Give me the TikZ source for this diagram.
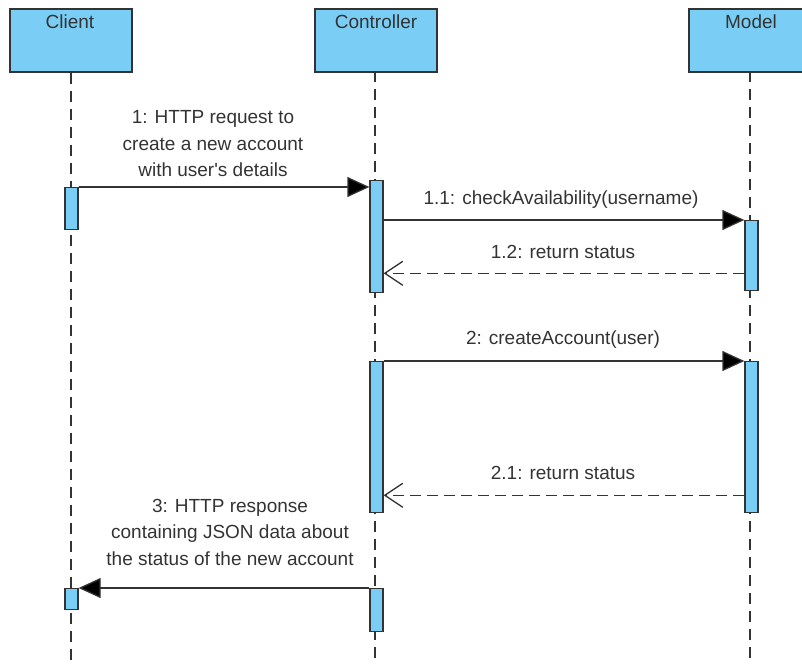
\documentclass[tikz,border=0pt]{standalone}
\usepackage{fontspec}
\setmainfont{Liberation Sans}
\usepackage{tikz}
\usetikzlibrary{arrows.meta}
\definecolor{umlblue}{RGB}{122,206,245}
\definecolor{umlline}{RGB}{51,51,51}

\begin{document}
\begin{tikzpicture}[x=1pt,y=-1pt,
  lifehead/.style={draw=umlline,line width=1.5pt,fill=umlblue,
    minimum width=122pt,minimum height=63pt,inner sep=0pt,anchor=north},
  headname/.style={text=umlline,font=\fontsize{19}{20}\selectfont},
  lifeline/.style={draw=umlline,line width=1.5pt,dash pattern=on 11pt off 7pt},
  actbar/.style={draw=umlline,line width=1.3pt,fill=umlblue,
    minimum width=13pt,inner sep=0pt,anchor=north},
  call/.style={draw=umlline,line width=1.3pt,
    -{Triangle[length=22pt,width=20pt,fill=black]}},
  reply/.style={draw=umlline,line width=1.3pt,dash pattern=on 11pt off 6pt,
    -{Straight Barb[length=18pt,width=24pt]}},
  msg/.style={text=umlline,align=center,font=\fontsize{19}{26.5}\selectfont}]

\useasboundingbox (0,0) rectangle (802,664);
\clip (0,0) rectangle (802,664);

\begin{scope}[shift={(70,0)}]
\node[lifehead] (client) at (1,8) {};
\node[headname] (clientname) at (0,22) {Client};
\draw[lifeline]
  (client.south)
  --
  (client.south |- 0,664);
\node[actbar,minimum height=42pt] (a1) at (1.5,187) {};
\node[actbar,minimum height=21pt] (a3) at (1.5,588) {};
\end{scope}

\begin{scope}[shift={(375,0)}]
\node[lifehead] (ctrl) at (1,8) {};
\node[headname] (ctrlname) at (1,22) {Controller};
\draw[lifeline]
  (0,71)
  --
  (0,664);
\node[actbar,minimum height=112pt] (c1) at (1.5,180) {};
\node[actbar,minimum height=151pt] (c2) at (1.5,361) {};
\node[actbar,minimum height=43pt] (c3) at (1.5,588) {};
\end{scope}

\begin{scope}[shift={(750,0)}]
\node[lifehead] (model) at (0,8) {};
\node[headname] (modelname) at (1,22) {Model};
\draw[lifeline]
  (0,71)
  --
  (0,664);
\node[actbar,minimum height=70pt] (m1) at (1.5,220) {};
\node[actbar,minimum height=151pt] (m2) at (1.5,361) {};
\end{scope}

\path (m1.south west) ++(0,-18) coordinate (r12);
\path (m2.south west) ++(0,-18) coordinate (r21);

\draw[call]
  (a1.north east)
  --
  (a1.north east -| c1.west);

\draw[call]
  (m1.north west -| c1.east)
  --
  (m1.north west);

\draw[reply]
  (r12)
  --
  (r12 -| c1.east);

\draw[call]
  (c2.north east)
  --
  (m2.north west);

\draw[reply]
  (r21)
  --
  (r21 -| c2.east);

\draw[call]
  (c3.north west)
  --
  (c3.north west -| a3.east);

\node[msg] (l1) at (213,144) {1: HTTP request to\\create a new account\\with user\textquotesingle s details};
\node[msg] (l11) at (561,200) {1.1: checkAvailability(username)};
\node[msg] (l12) at (563,252) {1.2: return status};
\node[msg] (l2) at (563,340) {2: createAccount(user)};
\node[msg] (l21) at (563,473) {2.1: return status};
\node[msg] (l3) at (230,532) {3: HTTP response\\containing JSON data about\\the status of the new account};

\end{tikzpicture}
\end{document}
